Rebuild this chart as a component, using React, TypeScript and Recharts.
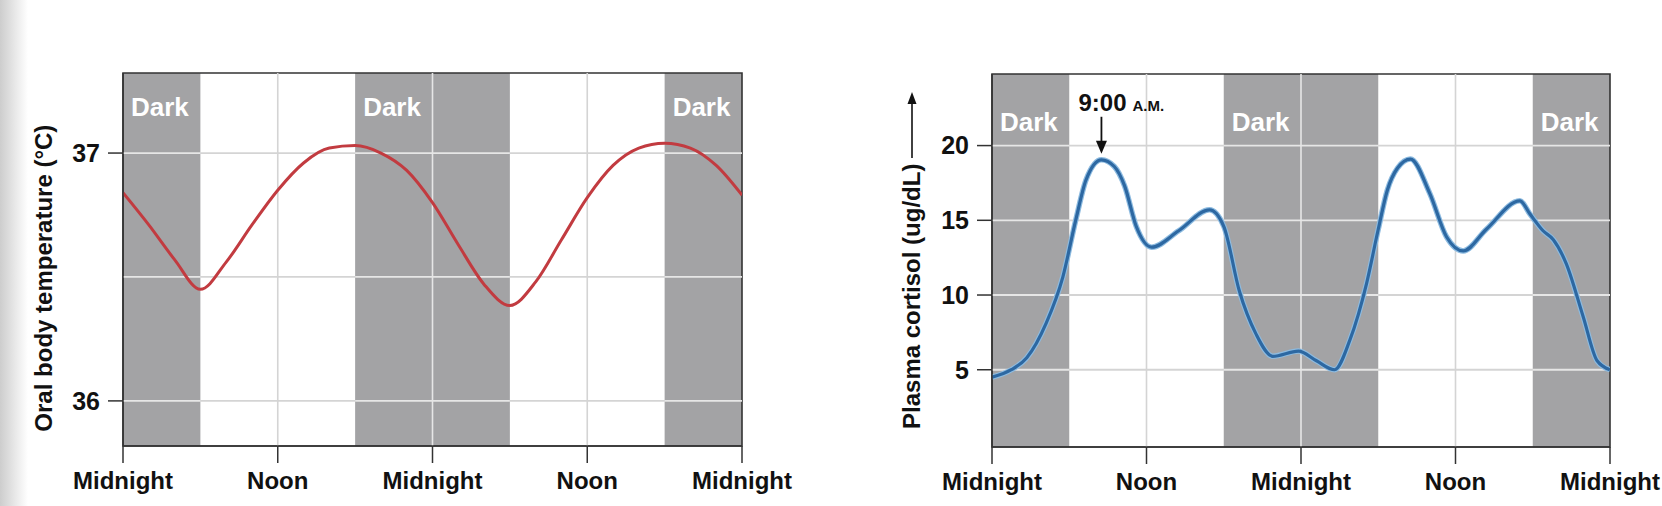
import React from "react"
import {
  LineChart,
  Line,
  XAxis,
  YAxis,
  ReferenceArea,
  ReferenceLine,
  ReferenceDot,
} from "recharts"

const FONT = "'Liberation Sans', Arial, Helvetica, sans-serif"

// shared time axis (hours from first midnight)
const hourTicks = [0, 12, 24, 36, 48]
const tickLabels = ["Midnight", "Noon", "Midnight", "Noon", "Midnight"]
const darkBands = [[0, 6], [18, 30], [42, 48]]
const lightBands = [[6, 18], [30, 42]]
const verticalGrid = [12, 24, 36]

// oral body temperature (°C)
const tempHours = [0, 2, 4, 6, 8, 10, 12, 14, 16, 18, 20, 22, 24, 26, 28, 30, 32, 34, 36, 38, 40, 42, 44, 46, 48]
const tempValues = [
  36.84, 36.71, 36.57, 36.45, 36.56, 36.71, 36.85, 36.96, 37.02, 37.03, 37.0, 36.93, 36.8,
  36.63, 36.47, 36.385, 36.48, 36.65, 36.82, 36.95, 37.02, 37.04, 37.02, 36.95, 36.83,
]
const tempTicks = [36, 37]
const tempGrid = [36, 36.5, 37]

// plasma cortisol (ug/dL)
const cortisolHours = [
  0, 1.5, 2.7, 4.2, 5.5, 6.5, 7.3, 8.5, 9.5, 10.3, 11.2, 12.4, 14.5, 16.9, 18, 19.2, 20.5, 21.8,
  23.8, 25.2, 26.6, 27.8, 29.1, 30, 30.7, 31.5, 32.5, 34, 35.3, 36.6, 38.4, 41, 41.8, 42.8, 43.6,
  44.6, 45.9, 47, 48,
]
const cortisolValues = [
  4.5, 5.0, 5.8, 8.1, 11.2, 15.0, 17.7, 19.05, 18.6, 17.3, 14.6, 13.2, 14.3, 15.7, 14.6, 10.3, 7.4,
  5.9, 6.25, 5.6, 5.0, 7.0, 10.8, 14.4, 17.0, 18.5, 19.1, 16.8, 13.9, 12.95, 14.4, 16.3, 15.4, 14.3,
  13.7, 12.1, 8.6, 5.6, 5.0,
]
const cortisolTicks = [5, 10, 15, 20]

const tempData = tempHours.map((hour, i) => ({ hour, temp: tempValues[i] }))
const cortisolData = cortisolHours.map((hour, i) => ({ hour, cortisol: cortisolValues[i] }))

const firstDay = cortisolData.filter((d) => d.hour < 24)
const morningPeak = firstDay.reduce((a, b) => (b.cortisol > a.cortisol ? b : a))

const DARK_FILL = "#a3a3a5"
const GRID_ON_DARK = "#e6e6e6"
const GRID_ON_LIGHT = "#d4d4d4"
const INK = "#111"
const AXIS = "#333"

const isDark = (h: number) => darkBands.some(([a, b]) => h > a && h < b)

function gridSegments(levels: number[]) {
  const out: { key: string; from: number; to: number; y: number; color: string }[] = []
  levels.forEach((y) => {
    darkBands.forEach(([a, b]) => out.push({ key: `d${y}-${a}`, from: a, to: b, y, color: GRID_ON_DARK }))
    lightBands.forEach(([a, b]) => out.push({ key: `l${y}-${a}`, from: a, to: b, y, color: GRID_ON_LIGHT }))
  })
  return out
}

function darkLabel(dy: number) {
  return (p: any) => {
    const vb = p.viewBox
    if (!vb) return null
    return (
      <text
        x={vb.x + 8}
        y={vb.y + dy}
        dominantBaseline="central"
        fill="#fff"
        fontSize={26}
        fontWeight={700}
        fontFamily={FONT}
      >
        Dark
      </text>
    )
  }
}

function axisTitle(text: string, dx: number, ratio: number, arrow: boolean) {
  return (p: any) => {
    const vb = p.viewBox
    if (!vb) return null
    const cx = vb.x + dx
    const cy = vb.y + vb.height * ratio
    const tip = vb.y + 18
    return (
      <g>
        <text
          x={cx}
          y={cy}
          transform={`rotate(-90 ${cx} ${cy})`}
          textAnchor="middle"
          dominantBaseline="central"
          fill={INK}
          fontSize={24}
          fontWeight={700}
          fontFamily={FONT}
        >
          {text}
        </text>
        {arrow && (
          <g>
            <line x1={cx} x2={cx} y1={vb.y + 84} y2={tip + 10} stroke={INK} strokeWidth={1.6} />
            <polygon points={`${cx - 4.5},${tip + 12} ${cx + 4.5},${tip + 12} ${cx},${tip}`} fill={INK} />
          </g>
        )}
      </g>
    )
  }
}

function MorningArrow(props: any) {
  const { cx, cy } = props
  if (cx == null || cy == null) return <g />
  const tip = cy - 6
  return (
    <g>
      <line x1={cx} x2={cx} y1={cy - 43} y2={tip - 10} stroke={INK} strokeWidth={1.8} />
      <polygon points={`${cx - 5.5},${tip - 13} ${cx + 5.5},${tip - 13} ${cx},${tip}`} fill={INK} />
      <text x={cx - 23} y={cy - 49} fill={INK} fontSize={24} fontWeight={700} fontFamily={FONT}>
        9:00
        <tspan fontSize={15} dx={6}>
          A.M.
        </tspan>
      </text>
    </g>
  )
}

const xTickStyle = { fill: INK, fontSize: 24, fontWeight: 700, fontFamily: FONT }
const yTickStyle = { fill: INK, fontSize: 25, fontWeight: 700, fontFamily: FONT }
const axisLine = { stroke: AXIS, strokeWidth: 1.5 }

function ChartFrame(props: {
  data: any[]
  domain: [number, number]
  ticks: number[]
  grid: number[]
  labelDy: number
  title: any
  margin: { top: number; right: number; bottom: number; left: number }
  width: number
  children?: React.ReactNode
}) {
  const { data, domain, ticks, grid, labelDy, title, margin, width, children } = props
  return (
    <LineChart width={width} height={506} data={data} margin={margin}>
      <XAxis
        dataKey="hour"
        type="number"
        domain={[0, 48]}
        ticks={hourTicks}
        interval={0}
        allowDataOverflow
        tickFormatter={(v) => tickLabels[hourTicks.indexOf(v)]}
        tick={xTickStyle}
        tickSize={17}
        tickMargin={9}
        axisLine={axisLine}
        tickLine={axisLine}
        height={40}
      />
      <YAxis
        type="number"
        domain={domain}
        ticks={ticks}
        interval={0}
        allowDataOverflow
        tick={yTickStyle}
        tickSize={15}
        tickMargin={8}
        axisLine={axisLine}
        tickLine={axisLine}
        width={60}
        label={{ content: title }}
      />
      {darkBands.map(([a, b]) => (
        <ReferenceArea
          key={`band${a}`}
          x1={a}
          x2={b}
          y1={domain[0]}
          y2={domain[1]}
          fill={DARK_FILL}
          fillOpacity={1}
          stroke="none"
          ifOverflow="hidden"
          label={{ content: darkLabel(labelDy) }}
        />
      ))}
      {gridSegments(grid).map((s) => (
        <ReferenceLine
          key={s.key}
          segment={[
            { x: s.from, y: s.y },
            { x: s.to, y: s.y },
          ]}
          stroke={s.color}
          strokeWidth={1.8}
        />
      ))}
      {verticalGrid.map((h) => (
        <ReferenceLine key={`v${h}`} x={h} stroke={isDark(h) ? GRID_ON_DARK : GRID_ON_LIGHT} strokeWidth={1.6} />
      ))}
      <ReferenceArea
        x1={0}
        x2={48}
        y1={domain[0]}
        y2={domain[1]}
        fill="none"
        stroke={AXIS}
        strokeWidth={1.6}
      />
      {children}
    </LineChart>
  )
}

export default function App() {
  return (
    <div
      style={{
        position: "absolute",
        left: 0,
        top: 0,
        width: 1662,
        height: 506,
        background: "#fff",
        overflow: "hidden",
      }}
    >
      <div
        style={{
          position: "absolute",
          left: 0,
          top: 0,
          width: 28,
          height: 506,
          background: "linear-gradient(to right, #cdcdcd, #ffffff)",
        }}
      />
      <div style={{ position: "absolute", left: 0, top: 0 }}>
        <ChartFrame
          width={800}
          data={tempData}
          domain={[35.818, 37.323]}
          ticks={tempTicks}
          grid={tempGrid}
          labelDy={34}
          title={axisTitle("Oral body temperature (°C)", -19, 0.55, false)}
          margin={{ top: 73, right: 58, bottom: 20, left: 63 }}
        >
          <Line
            type="monotone"
            dataKey="temp"
            stroke="#c23b40"
            strokeWidth={3}
            dot={false}
            activeDot={false}
            isAnimationActive={false}
          />
        </ChartFrame>
      </div>
      <div style={{ position: "absolute", left: 830, top: 0 }}>
        <ChartFrame
          width={832}
          data={cortisolData}
          domain={[-0.17, 24.79]}
          ticks={cortisolTicks}
          grid={cortisolTicks}
          labelDy={48}
          title={axisTitle("Plasma cortisol (ug/dL)", -20, 0.596, true)}
          margin={{ top: 74, right: 52, bottom: 19, left: 102 }}
        >
          <Line
            type="monotone"
            dataKey="cortisol"
            stroke="#8dbbe0"
            strokeWidth={5.5}
            dot={false}
            activeDot={false}
            isAnimationActive={false}
          />
          <Line
            type="monotone"
            dataKey="cortisol"
            stroke="#2d68a2"
            strokeWidth={3.2}
            dot={false}
            activeDot={false}
            isAnimationActive={false}
          />
          <ReferenceDot x={morningPeak.hour} y={morningPeak.cortisol} r={0} shape={MorningArrow} />
        </ChartFrame>
      </div>
    </div>
  )
}
